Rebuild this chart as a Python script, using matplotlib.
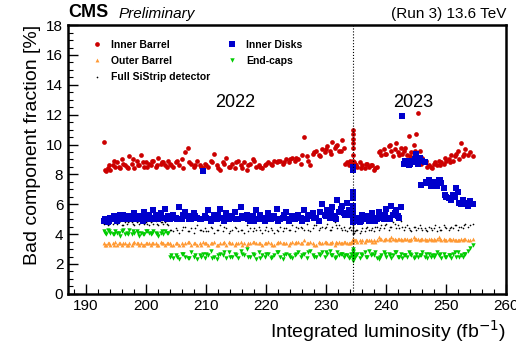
import numpy as np
import matplotlib
matplotlib.use("Agg")
import matplotlib.pyplot as plt

plt.rcParams['font.family'] = ['Liberation Sans', 'DejaVu Sans']

# integrated luminosity of each run (fb^-1)
lumi = [193.0, 193.3, 193.6, 194.0, 194.4, 194.8, 195.2, 195.6, 196.0, 196.4,
        196.8, 197.2, 197.6, 198.0, 198.4, 198.8, 199.2, 199.6, 200.0, 200.4,
        200.8, 201.2, 201.6, 202.0, 202.4, 202.8, 203.2, 203.6, 204.0, 204.5,
        205.0, 205.5, 206.0, 206.5, 207.0, 207.5, 208.0, 208.5, 209.0, 209.4,
        209.8, 210.3, 210.8, 211.3, 211.8, 212.3, 212.8, 213.3, 213.8, 214.3,
        214.8, 215.3, 215.8, 216.3, 216.8, 217.3, 217.8, 218.3, 218.8, 219.3,
        219.8, 220.3, 220.8, 221.3, 221.8, 222.3, 222.8, 223.3, 223.8, 224.3,
        224.8, 225.3, 225.8, 226.3, 226.8, 227.3, 227.8, 228.3, 228.8, 229.3,
        229.8, 230.2, 230.6, 231.0, 231.4, 231.8, 232.2, 232.6, 233.0, 233.4,
        233.8, 234.2, 234.5, 234.5, 234.5, 234.5, 234.5, 234.5, 234.5, 234.5,
        234.8, 235.2, 235.6, 236.0, 236.4, 236.8, 237.2, 237.6, 238.0, 238.4,
        238.8, 239.2, 239.6, 240.0, 240.4, 240.8, 241.2, 241.6, 242.0, 242.4,
        242.7, 243.0, 243.4, 243.8, 244.2, 244.6, 245.0, 245.3, 245.6, 246.0,
        246.4, 246.8, 247.2, 247.6, 248.0, 248.4, 248.8, 249.2, 249.6, 250.0,
        250.4, 250.8, 251.2, 251.6, 252.0, 252.4, 252.8, 253.2, 253.6, 254.0,
        254.4,
        193.15, 193.8, 194.6, 195.4, 196.2, 197.0, 197.8, 198.6, 199.4, 200.2,
        201.0, 201.8, 202.6, 203.4, 204.2, 205.2, 206.2, 207.2, 208.2, 209.2,
        210.0, 211.0, 212.0, 213.0, 214.0, 215.0, 216.0, 217.0, 218.0, 219.0,
        220.0, 221.0, 222.0, 223.0, 224.0, 225.0, 226.0, 227.0, 228.0, 229.0,
        230.0, 230.8, 231.6, 232.4, 233.2, 234.0, 234.6, 235.0, 235.8, 236.6,
        237.4, 238.2, 239.0, 239.8, 240.6, 241.4, 242.2, 243.2, 244.0, 244.8,
        245.8, 246.6, 247.4, 248.2, 249.0, 249.8, 250.6, 251.4, 252.2, 253.0]

inner_barrel = [10.2, 8.2, 8.4, 8.3, 8.6, 8.5, 8.8, 8.4, 9.0, 8.6,
                8.5, 9.2, 8.7, 8.4, 8.9, 8.6, 9.3, 8.5, 8.8, 8.7,
                8.6, 8.9, 8.5, 9.1, 8.7, 8.8, 8.6, 8.9, 8.7, 8.5,
                8.8, 8.6, 9.0, 9.5, 9.8, 8.7, 8.5, 8.9, 8.6, 8.4,
                8.7, 8.5, 8.9, 9.4, 8.6, 8.3, 8.8, 9.1, 8.5, 8.7,
                8.4, 8.9, 8.6, 8.8, 8.3, 8.7, 9.0, 8.5, 8.6, 8.4,
                8.6, 8.8, 8.7, 8.9, 8.8, 8.9, 8.7, 9.0, 8.8, 9.1,
                8.9, 9.0, 8.7, 10.5, 9.2, 8.6, 9.4, 9.6, 9.3, 9.7,
                9.5, 9.9, 9.6, 10.2, 9.8, 10.0, 9.6, 10.3, 9.8, 8.8,
                8.6, 8.7, 11.0, 10.7, 10.4, 10.1, 9.8, 9.3, 8.9, 8.6,
                8.7, 8.5, 8.8, 8.6, 8.4, 8.7, 8.5, 8.6, 8.3, 8.5,
                9.5, 9.3, 9.7, 9.4, 9.9, 9.6, 9.2, 10.1, 9.5, 9.8,
                9.4, 9.6, 9.3, 10.6, 9.5, 10.0, 10.7, 12.1, 9.6, 9.1,
                8.8, 8.5, 8.6, 8.4, 8.7, 8.6, 8.9, 8.8, 8.7, 8.9,
                9.0, 9.3, 8.9, 9.4, 9.6, 10.1, 9.2, 9.7, 9.3, 9.5,
                9.2,
                8.3, 8.6, 8.9, 8.5, 8.7, 8.4, 9.0, 8.6, 8.8, 8.5,
                8.9, 8.6, 8.8, 8.5, 8.6, 8.9, 8.4, 8.8, 8.6, 8.5,
                8.6, 8.8, 8.4, 8.7, 8.5, 8.8, 8.4, 8.6, 8.9, 8.5,
                8.7, 8.6, 8.9, 8.8, 9.0, 9.1, 9.3, 8.9, 9.5, 9.2,
                9.7, 9.4, 9.9, 9.6, 8.7, 8.9, 8.8, 8.6, 8.4, 8.7,
                8.6, 8.4, 9.6, 9.4, 10.0, 9.7, 9.3, 9.8, 9.2, 9.6,
                8.7, 8.9, 8.5, 8.8, 8.6, 9.1, 8.8, 9.2, 9.0, 9.4]

inner_disks = [4.9, 5.0, 4.8, 5.1, 5.0, 5.2, 4.9, 5.3, 5.0, 5.1,
               5.0, 5.2, 5.1, 5.4, 5.0, 5.2, 5.1, 5.5, 5.0, 5.3,
               5.1, 5.6, 5.2, 5.0, 5.4, 5.1, 5.7, 5.2, 5.0, 5.3,
               5.1, 5.8, 5.0, 5.5, 5.2, 5.0, 5.4, 5.1, 5.0, 8.2,
               5.2, 5.6, 4.9, 5.3, 5.0, 5.7, 5.1, 5.4, 5.0, 5.2,
               5.5, 5.0, 5.8, 5.1, 5.3, 4.9, 5.2, 5.6, 5.0, 5.1,
               4.9, 5.4, 5.0, 5.2, 5.7, 5.0, 5.1, 5.5, 4.9, 5.2,
               5.0, 5.3, 5.1, 5.6, 5.0, 5.2, 5.4, 5.1, 4.9, 6.0,
               5.3, 5.6, 5.1, 5.8, 5.2, 6.3, 5.5, 5.9, 5.4, 6.1,
               5.6, 5.3, 8.5, 8.3, 6.8, 6.4, 5.9, 5.5, 5.1, 4.8,
               4.9, 5.1, 4.8, 5.3, 5.0, 5.2, 4.9, 5.4, 5.1, 5.0,
               5.5, 5.2, 5.0, 5.7, 5.1, 5.9, 5.3, 5.6, 5.2, 5.8,
               11.9, 8.7, 8.8, 8.6, 8.9, 8.8, 9.4, 8.7, 9.1, 8.9,
               8.8, 7.4, 7.6, 7.3, 7.5, 7.2, 7.6, 7.4, 7.1, 6.5,
               6.4, 6.3, 6.6, 7.1, 6.8, 6.0, 6.3, 6.1, 5.9, 6.2,
               6.0,
               5.0, 4.9, 5.2, 5.0, 5.3, 5.1, 5.0, 5.2, 4.9, 5.1,
               5.0, 5.3, 5.1, 5.0, 5.2, 5.0, 5.3, 5.0, 5.2, 5.0,
               5.1, 5.0, 5.3, 4.9, 5.1, 5.0, 5.2, 5.0, 4.9, 5.3,
               5.0, 5.1, 4.9, 5.3, 5.0, 5.1, 4.9, 5.3, 5.1, 5.5,
               5.2, 5.4, 5.0, 5.7, 5.3, 5.5, 5.0, 5.1, 4.9, 5.0,
               5.2, 4.9, 5.1, 5.3, 5.0, 5.4, 5.1, 8.9, 8.7, 9.0,
               7.3, 7.5, 7.2, 7.4, 7.6, 6.6, 6.4, 6.5, 6.1, 6.0]

full_sistrip = [4.7, 4.8, 4.6, 4.9, 4.7, 4.8, 4.7, 4.9, 4.6, 4.8,
                4.7, 4.9, 4.8, 4.6, 4.8, 4.7, 4.9, 4.7, 4.8, 4.6,
                4.8, 4.7, 4.9, 4.6, 4.8, 4.7, 4.8, 4.6, 4.3, 4.2,
                4.4, 4.1, 4.3, 4.5, 4.2, 4.4, 4.1, 4.6, 4.3, 4.2,
                4.4, 4.2, 4.5, 4.1, 4.3, 4.6, 4.2, 4.4, 4.1, 4.3,
                4.5, 4.2, 4.3, 4.1, 4.6, 4.4, 4.2, 4.3, 4.5, 4.1,
                4.3, 4.2, 4.4, 4.1, 4.3, 4.5, 4.2, 4.4, 4.3, 4.6,
                4.2, 4.4, 4.5, 4.3, 4.7, 4.2, 4.4, 4.6, 4.3, 4.5,
                4.4, 4.7, 4.3, 4.5, 4.8, 4.4, 4.6, 4.3, 4.5, 4.2,
                4.4, 4.3, 4.0, 4.1, 4.2, 4.3, 4.4, 4.5, 4.6, 4.8,
                4.2, 4.3, 4.1, 4.4, 4.2, 4.5, 4.3, 4.4, 4.2, 4.5,
                4.3, 4.6, 4.4, 4.7, 4.3, 4.5, 4.8, 4.4, 4.6, 4.9,
                4.5, 4.3, 4.6, 4.4, 4.2, 4.5, 4.3, 4.4, 4.6, 4.3,
                4.4, 4.2, 4.5, 4.3, 4.4, 4.2, 4.5, 4.3, 4.6, 4.4,
                4.3, 4.5, 4.4, 4.6, 4.3, 4.5, 4.4, 4.7, 4.5, 4.6,
                4.7,
                4.8, 4.7, 4.9, 4.8, 4.6, 4.8, 4.7, 4.9, 4.8, 4.7,
                4.9, 4.7, 4.8, 4.7, 4.3, 4.3, 4.5, 4.2, 4.4, 4.3,
                4.2, 4.4, 4.3, 4.5, 4.2, 4.4, 4.3, 4.2, 4.4, 4.3,
                4.5, 4.3, 4.2, 4.4, 4.3, 4.5, 4.4, 4.3, 4.6, 4.4,
                4.5, 4.3, 4.6, 4.4, 4.3, 4.5, 4.1, 4.3, 4.2, 4.4,
                4.3, 4.5, 4.4, 4.6, 4.5, 4.7, 4.4, 4.5, 4.3, 4.5,
                4.4, 4.3, 4.4, 4.6, 4.3, 4.5, 4.4, 4.6, 4.5, 4.6]

outer_barrel = [3.4, 3.3, 3.4, 3.3, 3.4, 3.5, 3.3, 3.4, 3.3, 3.4,
                3.3, 3.4, 3.3, 3.5, 3.4, 3.3, 3.4, 3.3, 3.4, 3.4,
                3.3, 3.4, 3.4, 3.3, 3.5, 3.4, 3.3, 3.4, 3.4, 3.3,
                3.4, 3.3, 3.4, 3.4, 3.5, 3.3, 3.4, 3.3, 3.4, 3.5,
                3.4, 3.3, 3.4, 3.5, 3.3, 3.4, 3.4, 3.3, 3.5, 3.4,
                3.3, 3.4, 3.5, 3.4, 3.3, 3.4, 3.5, 3.4, 3.4, 3.3,
                3.4, 3.5, 3.4, 3.3, 3.4, 3.5, 3.4, 3.4, 3.3, 3.5,
                3.4, 3.5, 3.4, 3.6, 3.4, 3.5, 3.4, 3.3, 3.5, 3.4,
                3.5, 3.4, 3.4, 3.5, 3.3, 3.4, 3.5, 3.4, 3.5, 3.4,
                3.4, 3.5, 3.7, 3.6, 3.6, 3.5, 3.7, 3.6, 3.5, 3.6,
                3.6, 3.5, 3.6, 3.6, 3.5, 3.6, 3.6, 3.5, 3.6, 3.6,
                3.8, 3.7, 3.6, 3.7, 3.7, 3.8, 3.7, 3.6, 3.7, 3.7,
                3.6, 3.7, 3.7, 3.6, 3.7, 3.8, 3.7, 3.7, 3.6, 3.7,
                3.7, 3.6, 3.7, 3.6, 3.7, 3.7, 3.8, 3.6, 3.7, 3.6,
                3.7, 3.6, 3.7, 3.6, 3.6, 3.7, 3.6, 3.7, 3.6, 3.6,
                3.7,
                3.3, 3.4, 3.3, 3.4, 3.4, 3.3, 3.4, 3.4, 3.3, 3.4,
                3.4, 3.3, 3.4, 3.4, 3.3, 3.4, 3.3, 3.5, 3.4, 3.3,
                3.4, 3.4, 3.3, 3.5, 3.4, 3.4, 3.3, 3.4, 3.5, 3.4,
                3.4, 3.3, 3.5, 3.4, 3.4, 3.5, 3.4, 3.4, 3.3, 3.4,
                3.5, 3.4, 3.5, 3.4, 3.5, 3.4, 3.6, 3.6, 3.5, 3.6,
                3.6, 3.5, 3.7, 3.7, 3.6, 3.7, 3.7, 3.7, 3.6, 3.7,
                3.7, 3.6, 3.7, 3.6, 3.7, 3.6, 3.7, 3.6, 3.6, 3.7]

end_caps = [4.2, 4.0, 4.3, 4.1, 4.0, 4.2, 4.1, 3.9, 4.2, 4.0,
            4.1, 4.3, 4.0, 4.1, 4.2, 3.9, 4.1, 4.0, 4.2, 4.1,
            4.0, 4.2, 4.1, 3.9, 4.1, 4.0, 4.2, 4.1, 2.5, 2.4,
            2.6, 2.3, 2.7, 2.5, 2.4, 2.8, 2.5, 2.3, 2.6, 2.7,
            2.4, 2.6, 2.9, 2.5, 2.3, 2.7, 2.6, 2.4, 2.8, 2.5,
            2.7, 2.4, 2.9, 2.6, 3.0, 2.5, 2.7, 2.3, 2.8, 2.6,
            2.5, 2.7, 2.4, 2.6, 2.8, 2.5, 2.3, 2.7, 2.6, 2.4,
            2.6, 2.8, 2.5, 2.7, 2.4, 2.9, 2.6, 2.5, 2.7, 2.8,
            2.5, 2.7, 2.9, 2.6, 2.4, 2.8, 2.6, 2.7, 2.5, 2.6,
            2.4, 2.7, 2.3, 2.5, 2.6, 2.7, 2.8, 2.9, 3.0, 2.2,
            2.5, 2.7, 2.4, 2.6, 2.8, 2.5, 2.9, 2.7, 2.6, 2.4,
            2.3, 2.6, 2.8, 2.5, 2.7, 2.4, 2.6, 2.8, 2.5, 2.7,
            2.4, 2.6, 2.5, 2.8, 2.6, 2.4, 2.7, 2.5, 2.6, 2.8,
            2.5, 2.4, 2.7, 2.6, 2.5, 2.8, 2.6, 2.4, 2.7, 2.5,
            2.6, 2.4, 2.7, 2.5, 2.8, 2.6, 2.5, 2.7, 2.9, 3.1,
            3.3,
            4.1, 4.2, 4.0, 4.1, 4.3, 4.0, 4.2, 4.1, 4.0, 4.2,
            4.1, 4.0, 4.2, 4.1, 2.6, 2.5, 2.7, 2.4, 2.6, 2.5,
            2.7, 2.4, 2.6, 2.8, 2.5, 2.6, 2.7, 2.5, 2.6, 2.4,
            2.7, 2.5, 2.8, 2.6, 2.5, 2.7, 2.6, 2.8, 2.5, 2.6,
            2.8, 2.6, 2.5, 2.7, 2.6, 2.5, 2.4, 2.6, 2.7, 2.5,
            2.6, 2.8, 2.5, 2.7, 2.6, 2.8, 2.5, 2.6, 2.7, 2.5,
            2.6, 2.7, 2.5, 2.6, 2.7, 2.5, 2.6, 2.8, 2.5, 2.7]

year_split = 234.5

fig = plt.figure(figsize=(5.16, 3.54), dpi=100)
ax = fig.add_axes([0.132, 0.17, 0.849, 0.759])

h_ib, = ax.plot(lumi, inner_barrel, 'o', color='#cc0000', ms=3.4, mew=0, label='Inner Barrel')
h_ob, = ax.plot(lumi, outer_barrel, '^', color='#ff9933', ms=2.8, mew=0, label='Outer Barrel')
h_fs, = ax.plot(lumi, full_sistrip, '.', color='black', ms=2.4, mew=0, label='Full SiStrip detector')
h_id, = ax.plot(lumi, inner_disks, 's', color='#0000cc', ms=4, mew=0, label='Inner Disks')
h_ec, = ax.plot(lumi, end_caps, 'v', color='#00cc00', ms=3.2, mew=0, label='End-caps')

ax.axvline(year_split, color='black', ls=':', lw=0.8)

ax.set_xlim(187, 260)
ax.set_ylim(0, 18)
ax.set_xticks(np.arange(190, 261, 10))
ax.set_xticks(np.arange(188, 261, 2), minor=True)
ax.set_yticks(np.arange(0, 19, 2))
ax.set_yticks(np.arange(0, 18.1, 0.5), minor=True)
ax.tick_params(which='both', direction='in', top=False, right=False, labelsize=11)
ax.tick_params(which='major', length=7, width=1)
ax.tick_params(which='minor', length=3.5, width=0.8)
for s in ax.spines.values():
    s.set_linewidth(1.8)

ax.set_xlabel('Integrated luminosity (fb$^{-1}$)', fontsize=14, loc='right')
ax.set_ylabel('Bad component fraction [%]', fontsize=14, loc='top')

ax.text(214.8, 12.8, '2022', fontsize=13, ha='center', va='center')
ax.text(244.5, 12.8, '2023', fontsize=13, ha='center', va='center')

ax.text(0.0, 1.015, 'CMS', transform=ax.transAxes, fontsize=13, fontweight='bold', ha='left', va='bottom')
ax.text(0.115, 1.015, 'Preliminary', transform=ax.transAxes, fontsize=11, style='italic', ha='left', va='bottom')
ax.text(1.0, 1.015, '(Run 3) 13.6 TeV', transform=ax.transAxes, fontsize=11, ha='right', va='bottom')

leg = ax.legend(handles=[h_ib, h_ob, h_fs, h_id, h_ec], ncol=2, loc='upper left',
                bbox_to_anchor=(0.03, 0.98), frameon=False, markerscale=1.0,
                prop={'weight': 'bold', 'size': 7.5}, handlelength=1.2,
                columnspacing=1.4, labelspacing=0.6)

fig.savefig('out.png', dpi=100)
